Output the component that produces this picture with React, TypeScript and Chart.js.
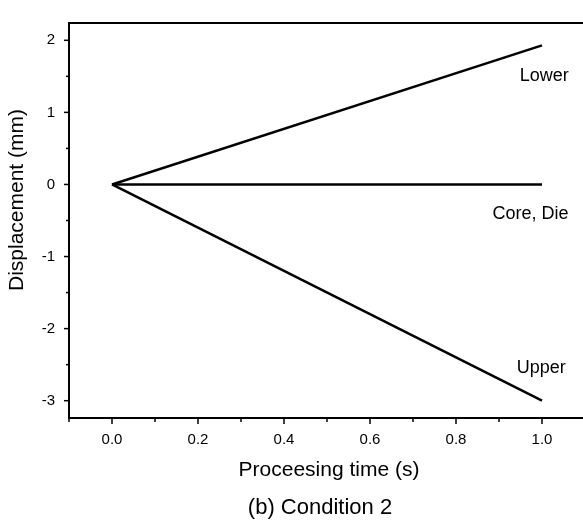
import React, { useEffect, useRef } from "react";
import { Chart, registerables } from "chart.js";

Chart.register(...registerables);

// ---- data ----
const times = [0, 1];
const lowerValues = [0, 1.93];
const coreDieValues = [0, 0];
const upperValues = [0, -3];

const xMajorTicks = [0, 0.2, 0.4, 0.6, 0.8, 1.0];
const xMinorTicks = [-0.1, 0.1, 0.3, 0.5, 0.7, 0.9, 1.1];
const yMajorTicks = [-3, -2, -1, 0, 1, 2];
const yMinorTicks = [-2.5, -1.5, -0.5, 0.5, 1.5];

const seriesLabels = ["Lower", "Core, Die", "Upper"];
const xTitle = "Proceesing time (s)";
const yTitle = "Displacement (mm)";
const caption = "(b) Condition 2";

const FONT = "'Liberation Sans', Arial, sans-serif";

const toPoints = (vals: number[]) => times.map((t, i) => ({ x: t, y: vals[i] }));

const decor = {
  id: "decor",
  afterDraw(chart: any) {
    const { ctx, chartArea: a, scales } = chart;
    const x = scales.x;
    const y = scales.y;
    ctx.save();
    ctx.strokeStyle = "#000";
    ctx.fillStyle = "#000";
    // top frame line
    ctx.lineWidth = 2;
    ctx.beginPath();
    ctx.moveTo(a.left - 1, a.top);
    ctx.lineTo(a.right + 2, a.top);
    ctx.stroke();
    // tick marks
    ctx.lineWidth = 1.5;
    const tick = (x1: number, y1: number, x2: number, y2: number) => {
      ctx.beginPath();
      ctx.moveTo(x1, y1);
      ctx.lineTo(x2, y2);
      ctx.stroke();
    };
    xMajorTicks.forEach((v) => {
      const p = x.getPixelForValue(v);
      tick(p, a.bottom, p, a.bottom + 6);
    });
    xMinorTicks.forEach((v) => {
      const p = x.getPixelForValue(v);
      tick(p, a.bottom, p, a.bottom + 4);
    });
    yMajorTicks.forEach((v) => {
      const p = y.getPixelForValue(v);
      tick(a.left, p, a.left - 5, p);
    });
    yMinorTicks.forEach((v) => {
      const p = y.getPixelForValue(v);
      tick(a.left, p, a.left - 3, p);
    });

    // series labels
    ctx.font = `18px ${FONT}`;
    ctx.textAlign = "center";
    ctx.textBaseline = "middle";
    const labelPos = [
      [1.005, 1.51],
      [0.973, -0.41],
      [0.998, -2.55],
    ];
    seriesLabels.forEach((s, i) => {
      ctx.fillText(s, x.getPixelForValue(labelPos[i][0]), y.getPixelForValue(labelPos[i][1]));
    });

    // x title and caption
    ctx.font = `21px ${FONT}`;
    ctx.fillText(xTitle, 329, 470);
    ctx.font = `22px ${FONT}`;
    ctx.fillText(caption, 320, 508);

    // y title
    ctx.save();
    ctx.translate(17, 200);
    ctx.rotate(-Math.PI / 2);
    ctx.font = `21px ${FONT}`;
    ctx.fillText(yTitle, 0, 0);
    ctx.restore();

    ctx.restore();
  },
};

export default function App() {
  const ref = useRef<HTMLCanvasElement | null>(null);
  useEffect(() => {
    if (!ref.current) return;
    const lineStyle = {
      borderColor: "#000",
      borderWidth: 2.5,
      pointRadius: 0,
      fill: false,
      tension: 0,
    };
    const chart = new Chart(ref.current, {
      type: "line",
      data: {
        datasets: [
          { label: seriesLabels[0], data: toPoints(lowerValues), ...lineStyle },
          { label: seriesLabels[1], data: toPoints(coreDieValues), ...lineStyle },
          { label: seriesLabels[2], data: toPoints(upperValues), ...lineStyle },
        ],
      },
      options: {
        responsive: false,
        animation: false,
        devicePixelRatio: 1,
        layout: { padding: { top: 8, right: 5, left: 0, bottom: 0 } },
        plugins: { legend: { display: false }, tooltip: { enabled: false }, title: { display: false } },
        scales: {
          x: {
            type: "linear",
            min: -0.1,
            max: 1.1,
            afterBuildTicks: (s: any) => {
              s.ticks = xMajorTicks.map((v) => ({ value: v }));
            },
            afterFit: (s: any) => {
              s.height = 104;
            },
            grid: { display: false, drawTicks: false },
            border: { display: true, color: "#000", width: 2 },
            ticks: {
              color: "#000",
              font: { family: FONT, size: 15 },
              padding: 13,
              maxRotation: 0,
              autoSkip: false,
              callback: (v: any) => Number(v).toFixed(1),
            },
          },
          y: {
            type: "linear",
            min: -3.24,
            max: 2.24,
            afterBuildTicks: (s: any) => {
              s.ticks = yMajorTicks.map((v) => ({ value: v }));
            },
            afterFit: (s: any) => {
              s.width = 69;
            },
            grid: { display: false, drawTicks: false },
            border: { display: true, color: "#000", width: 2 },
            ticks: {
              color: "#000",
              font: { family: FONT, size: 15 },
              padding: 14,
              autoSkip: false,
              callback: (v: any) => String(v),
            },
          },
        },
      },
      plugins: [decor],
    });
    return () => chart.destroy();
  }, []);
  return (
    <div style={{ position: "fixed", left: 0, top: 0, width: 590, height: 522, background: "#fff" }}>
      <canvas ref={ref} width={590} height={522} style={{ width: 590, height: 522, display: "block" }} />
    </div>
  );
}
